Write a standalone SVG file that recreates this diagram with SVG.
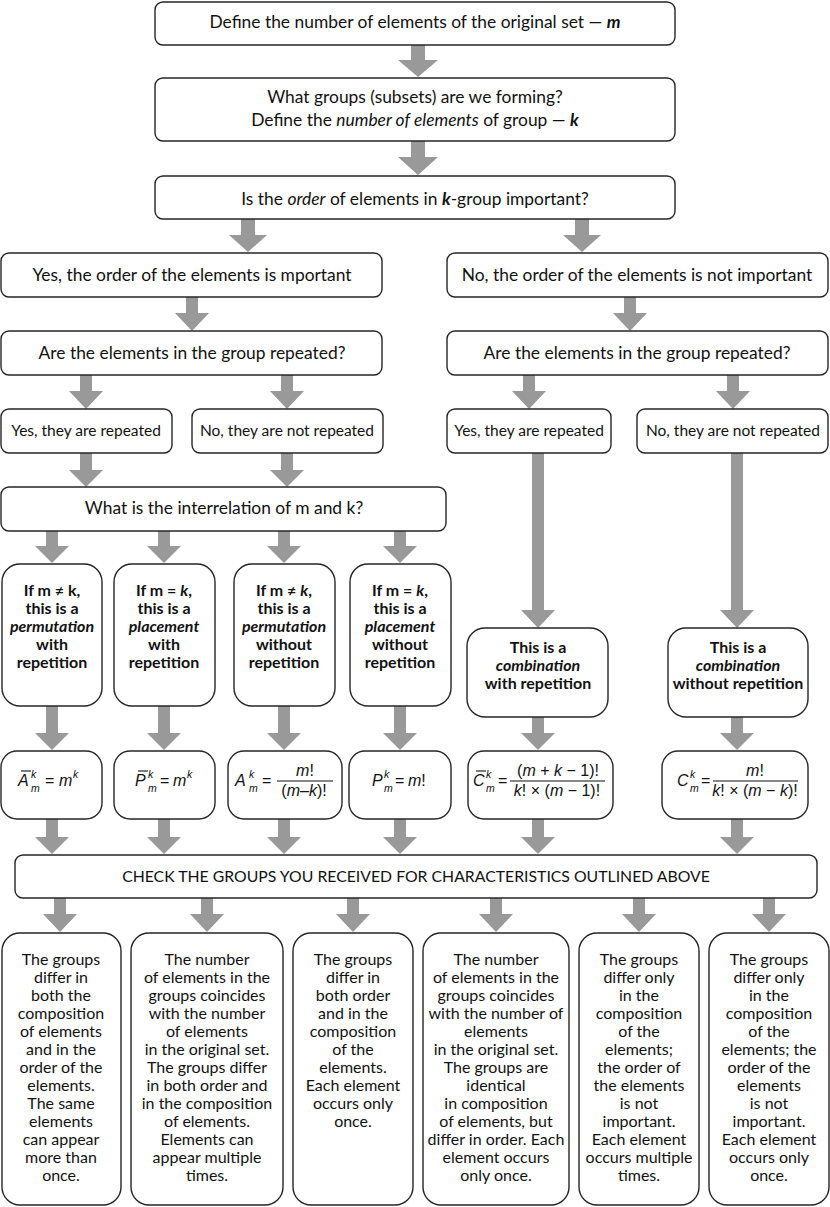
<svg xmlns="http://www.w3.org/2000/svg" width="830" height="1207" viewBox="0 0 830 1207">
<style>
.box{fill:#fff;stroke:#262626;stroke-width:1.4}
.arr{fill:#999;stroke:none}
text{font-family:Lato,"Liberation Sans",sans-serif;fill:#111}
.t{font-size:17.4px;text-anchor:middle}
.c{font-size:15.8px;text-anchor:middle}
.s{font-size:15.5px;text-anchor:middle}
.b{font-size:16px;font-weight:bold;text-anchor:middle}
.d{font-size:16px;text-anchor:middle}
.i{font-style:italic}
.bi{font-style:italic;font-weight:bold}
.f{font-family:"Liberation Sans",Arial,sans-serif;font-size:16px;font-style:normal}
.fi{font-family:"Liberation Sans",Arial,sans-serif;font-size:16px;font-style:italic}
.fs{font-family:"Liberation Sans",Arial,sans-serif;font-size:10.5px;font-style:italic}
.bar{stroke:#111;stroke-width:1.1}
</style>
<g id="connectors">
<polygon class="arr" points="411,45 425,45 425,60 438,60 418,77 398,60 411,60"/>
<polygon class="arr" points="411,141 425,141 425,157 438,157 418,175 398,157 411,157"/>
<polygon class="arr" points="241,219 255,219 255,235 267,235 248,252 229,235 241,235"/>
<polygon class="arr" points="575,219 589,219 589,235 601,235 582,252 563,235 575,235"/>
<polygon class="arr" points="186,297 198,297 198,313 209,313 192,331 175,313 186,313"/>
<polygon class="arr" points="624,297 636,297 636,313 647,313 630,331 613,313 624,313"/>
<polygon class="arr" points="80,375 92,375 92,391 103,391 86,409 69,391 80,391"/>
<polygon class="arr" points="281,375 293,375 293,391 304,391 287,409 270,391 281,391"/>
<polygon class="arr" points="523,375 535,375 535,391 546,391 529,409 512,391 523,391"/>
<polygon class="arr" points="727,375 739,375 739,391 750,391 733,409 716,391 727,391"/>
<polygon class="arr" points="80,453 92,453 92,470 103,470 86,487 69,470 80,470"/>
<polygon class="arr" points="281,453 293,453 293,470 304,470 287,487 270,470 281,470"/>
<polygon class="arr" points="532,453 544,453 544,610 555,610 538,628 521,610 532,610"/>
<polygon class="arr" points="731,453 743,453 743,610 754,610 737,628 720,610 731,610"/>
<polygon class="arr" points="46,531 58,531 58,546 69,546 52,563 35,546 46,546"/>
<polygon class="arr" points="158,531 170,531 170,546 181,546 164,563 147,546 158,546"/>
<polygon class="arr" points="278,531 290,531 290,546 301,546 284,563 267,546 278,546"/>
<polygon class="arr" points="394,531 406,531 406,546 417,546 400,563 383,546 394,546"/>
<polygon class="arr" points="46,706 58,706 58,733 69,733 52,750 35,733 46,733"/>
<polygon class="arr" points="158,706 170,706 170,733 181,733 164,750 147,733 158,733"/>
<polygon class="arr" points="278,706 290,706 290,733 301,733 284,750 267,733 278,733"/>
<polygon class="arr" points="394,706 406,706 406,733 417,733 400,750 383,733 394,733"/>
<polygon class="arr" points="532,717 544,717 544,733 555,733 538,750 521,733 532,733"/>
<polygon class="arr" points="731,717 743,717 743,733 754,733 737,750 720,733 731,733"/>
<polygon class="arr" points="46,819 58,819 58,837 69,837 52,854 35,837 46,837"/>
<polygon class="arr" points="158,819 170,819 170,837 181,837 164,854 147,837 158,837"/>
<polygon class="arr" points="278,819 290,819 290,837 301,837 284,854 267,837 278,837"/>
<polygon class="arr" points="394,819 406,819 406,837 417,837 400,854 383,837 394,837"/>
<polygon class="arr" points="532,819 544,819 544,837 555,837 538,854 521,837 532,837"/>
<polygon class="arr" points="731,819 743,819 743,837 754,837 737,854 720,837 731,837"/>
<polygon class="arr" points="54,898 66,898 66,914 77,914 60,932 43,914 54,914"/>
<polygon class="arr" points="201,898 213,898 213,914 224,914 207,932 190,914 201,914"/>
<polygon class="arr" points="347,898 359,898 359,914 370,914 353,932 336,914 347,914"/>
<polygon class="arr" points="490,898 502,898 502,914 513,914 496,932 479,914 490,914"/>
<polygon class="arr" points="633,898 645,898 645,914 656,914 639,932 622,914 633,914"/>
<polygon class="arr" points="763,898 775,898 775,914 786,914 769,932 752,914 763,914"/>
</g>

<g id="n-define-m"><rect class="box" x="155" y="2" width="520" height="43" rx="8"/>
<text class="t" x="415" y="28">Define the number of elements of the original set — <tspan class="bi">m</tspan></text></g>

<g id="n-groups"><rect class="box" x="155" y="78" width="520" height="63" rx="8"/>
<text class="t" x="415" y="103">What groups (subsets) are we forming?</text>
<text class="t" x="415" y="126">Define the <tspan class="i">number of elements</tspan> of group — <tspan class="bi">k</tspan></text></g>

<g id="n-order"><rect class="box" x="155" y="176" width="520" height="43" rx="8"/>
<text class="t" x="415" y="205">Is the <tspan class="i">order</tspan> of elements in <tspan class="bi">k</tspan>-group important?</text></g>

<g id="n-yes-order"><rect class="box" x="1" y="253" width="381" height="44" rx="8"/>
<text class="t" x="192" y="281">Yes, the order of the elements is mportant</text></g>

<g id="n-no-order"><rect class="box" x="447" y="253" width="381" height="44" rx="8"/>
<text class="t" x="637" y="281">No, the order of the elements is not important</text></g>

<g id="n-rep-left"><rect class="box" x="1" y="331" width="381" height="44" rx="8"/>
<text class="t" x="192" y="359">Are the elements in the group repeated?</text></g>

<g id="n-rep-right"><rect class="box" x="447" y="331" width="381" height="44" rx="8"/>
<text class="t" x="637" y="359">Are the elements in the group repeated?</text></g>

<g id="n-yes-rep-l"><rect class="box" x="1" y="409" width="171" height="44" rx="8"/>
<text class="s" x="86" y="436">Yes, they are repeated</text></g>
<g id="n-no-rep-l"><rect class="box" x="192" y="409" width="191" height="44" rx="8"/>
<text class="s" x="287" y="436">No, they are not repeated</text></g>
<g id="n-yes-rep-r"><rect class="box" x="447" y="409" width="164" height="44" rx="8"/>
<text class="s" x="529" y="436">Yes, they are repeated</text></g>
<g id="n-no-rep-r"><rect class="box" x="637" y="409" width="191" height="44" rx="8"/>
<text class="s" x="733" y="436">No, they are not repeated</text></g>

<g id="n-interrelation"><rect class="box" x="1" y="487" width="445" height="44" rx="8"/>
<text class="t" x="224" y="514">What is the interrelation of m and k?</text></g>

<g id="n-case1"><rect class="box" x="2" y="564" width="100" height="142" rx="18"/>
<text class="b" x="52" y="596">If m ≠ k,</text>
<text class="b" x="52" y="614">this is a</text>
<text class="b i" x="52" y="632">permutation</text>
<text class="b" x="52" y="650">with</text>
<text class="b" x="52" y="668">repetition</text></g>

<g id="n-case2"><rect class="box" x="114" y="564" width="101" height="142" rx="18"/>
<text class="b" x="164" y="596">If m = <tspan class="i">k</tspan>,</text>
<text class="b" x="164" y="614">this is a</text>
<text class="b i" x="164" y="632">placement</text>
<text class="b" x="164" y="650">with</text>
<text class="b" x="164" y="668">repetition</text></g>

<g id="n-case3"><rect class="box" x="234" y="564" width="101" height="142" rx="18"/>
<text class="b" x="284" y="596">If m ≠ <tspan class="i">k</tspan>,</text>
<text class="b" x="284" y="614">this is a</text>
<text class="b i" x="284" y="632">permutation</text>
<text class="b" x="284" y="650">without</text>
<text class="b" x="284" y="668">repetition</text></g>

<g id="n-case4"><rect class="box" x="350" y="564" width="101" height="142" rx="18"/>
<text class="b" x="400" y="596">If m = <tspan class="i">k</tspan>,</text>
<text class="b" x="400" y="614">this is a</text>
<text class="b i" x="400" y="632">placement</text>
<text class="b" x="400" y="650">without</text>
<text class="b" x="400" y="668">repetition</text></g>

<g id="n-comb-rep"><rect class="box" x="467" y="628" width="141" height="89" rx="18"/>
<text class="b" x="538" y="653">This is a</text>
<text class="b i" x="538" y="671">combination</text>
<text class="b" x="538" y="689">with repetition</text></g>

<g id="n-comb-norep"><rect class="box" x="668" y="628" width="140" height="89" rx="18"/>
<text class="b" x="738" y="653">This is a</text>
<text class="b i" x="738" y="671">combination</text>
<text class="b" x="738" y="689">without repetition</text></g>

<g id="n-f1"><rect class="box" x="1" y="751" width="101" height="68" rx="16"/>
<text class="fi" x="18" y="786">A</text><line class="bar" x1="21" y1="771" x2="31" y2="771"/>
<text class="fs" x="31" y="778">k</text><text class="fs" x="31" y="792">m</text>
<text class="f" x="45" y="786">=</text><text class="fi" x="59" y="786">m</text><text class="fs" x="73" y="778">k</text></g>

<g id="n-f2"><rect class="box" x="114" y="751" width="101" height="68" rx="16"/>
<text class="fi" x="135" y="786">P</text><line class="bar" x1="138" y1="771" x2="148" y2="771"/>
<text class="fs" x="148" y="778">k</text><text class="fs" x="148" y="792">m</text>
<text class="f" x="160" y="786">=</text><text class="fi" x="173" y="786">m</text><text class="fs" x="187" y="778">k</text></g>

<g id="n-f3"><rect class="box" x="228" y="751" width="114" height="68" rx="16"/>
<text class="fi" x="235" y="786">A</text>
<text class="fs" x="249" y="778">k</text><text class="fs" x="249" y="792">m</text>
<text class="f" x="262" y="786">=</text>
<text class="fi" x="305" y="776" text-anchor="middle">m<tspan class="f">!</tspan></text>
<line class="bar" x1="277" y1="781" x2="333" y2="781"/>
<text class="fi" x="304" y="796" text-anchor="middle"><tspan class="f">(</tspan>m–k<tspan class="f">)!</tspan></text></g>

<g id="n-f4"><rect class="box" x="349" y="751" width="102" height="68" rx="16"/>
<text class="fi" x="372" y="786">P</text>
<text class="fs" x="384" y="778">k</text><text class="fs" x="384" y="792">m</text>
<text class="f" x="395" y="786">=</text><text class="fi" x="408" y="786">m<tspan class="f">!</tspan></text></g>

<g id="n-f5"><rect class="box" x="468" y="751" width="145" height="68" rx="16"/>
<text class="fi" x="473" y="786">C</text><line class="bar" x1="476" y1="771" x2="486" y2="771"/>
<text class="fs" x="486" y="778">k</text><text class="fs" x="486" y="792">m</text>
<text class="f" x="498" y="786">=</text>
<text class="fi" x="558" y="776" text-anchor="middle"><tspan class="f">(</tspan>m <tspan class="f">+</tspan> k <tspan class="f">− 1)!</tspan></text>
<line class="bar" x1="510" y1="781" x2="605" y2="781"/>
<text class="fi" x="557" y="796" text-anchor="middle">k<tspan class="f">! × (</tspan>m <tspan class="f">− 1)!</tspan></text></g>

<g id="n-f6"><rect class="box" x="662" y="751" width="146" height="68" rx="16"/>
<text class="fi" x="677" y="786">C</text>
<text class="fs" x="690" y="778">k</text><text class="fs" x="690" y="792">m</text>
<text class="f" x="701" y="786">=</text>
<text class="fi" x="755" y="776" text-anchor="middle">m<tspan class="f">!</tspan></text>
<line class="bar" x1="713" y1="781" x2="798" y2="781"/>
<text class="fi" x="755" y="796" text-anchor="middle">k<tspan class="f">! × (</tspan>m <tspan class="f">−</tspan> k<tspan class="f">)!</tspan></text></g>

<g id="n-check"><rect class="box" x="15" y="855" width="802" height="43" rx="8"/>
<text class="c" x="416" y="882">CHECK THE GROUPS YOU RECEIVED FOR CHARACTERISTICS OUTLINED ABOVE</text></g>

<g id="n-r1"><rect class="box" x="2" y="933" width="119" height="272" rx="18"/>
<text class="d" x="61">
<tspan x="61" y="965">The groups</tspan><tspan x="61" y="983">differ in</tspan><tspan x="61" y="1001">both the</tspan><tspan x="61" y="1019">composition</tspan><tspan x="61" y="1037">of elements</tspan><tspan x="61" y="1055">and in the</tspan><tspan x="61" y="1073">order of the</tspan><tspan x="61" y="1091">elements.</tspan><tspan x="61" y="1109">The same</tspan><tspan x="61" y="1127">elements</tspan><tspan x="61" y="1145">can appear</tspan><tspan x="61" y="1163">more than</tspan><tspan x="61" y="1181">once.</tspan></text></g>

<g id="n-r2"><rect class="box" x="131" y="933" width="152" height="272" rx="18"/>
<text class="d" x="207">
<tspan x="207" y="965">The number</tspan><tspan x="207" y="983">of elements in the</tspan><tspan x="207" y="1001">groups coincides</tspan><tspan x="207" y="1019">with the number</tspan><tspan x="207" y="1037">of elements</tspan><tspan x="207" y="1055">in the original set.</tspan><tspan x="207" y="1073">The groups differ</tspan><tspan x="207" y="1091">in both order and</tspan><tspan x="207" y="1109">in the composition</tspan><tspan x="207" y="1127">of elements.</tspan><tspan x="207" y="1145">Elements can</tspan><tspan x="207" y="1163">appear multiple</tspan><tspan x="207" y="1181">times.</tspan></text></g>

<g id="n-r3"><rect class="box" x="293" y="933" width="120" height="272" rx="18"/>
<text class="d" x="353">
<tspan x="353" y="965">The groups</tspan><tspan x="353" y="983">differ in</tspan><tspan x="353" y="1001">both order</tspan><tspan x="353" y="1019">and in the</tspan><tspan x="353" y="1037">composition</tspan><tspan x="353" y="1055">of the</tspan><tspan x="353" y="1073">elements.</tspan><tspan x="353" y="1091">Each element</tspan><tspan x="353" y="1109">occurs only</tspan><tspan x="353" y="1127">once.</tspan></text></g>

<g id="n-r4"><rect class="box" x="423" y="933" width="146" height="272" rx="18"/>
<text class="d" x="496">
<tspan x="496" y="965">The number</tspan><tspan x="496" y="983">of elements in the</tspan><tspan x="496" y="1001">groups coincides</tspan><tspan x="496" y="1019">with the number of</tspan><tspan x="496" y="1037">elements</tspan><tspan x="496" y="1055">in the original set.</tspan><tspan x="496" y="1073">The groups are</tspan><tspan x="496" y="1091">identical</tspan><tspan x="496" y="1109">in composition</tspan><tspan x="496" y="1127">of elements, but</tspan><tspan x="496" y="1145">differ in order. Each</tspan><tspan x="496" y="1163">element occurs</tspan><tspan x="496" y="1181">only once.</tspan></text></g>

<g id="n-r5"><rect class="box" x="579" y="933" width="120" height="272" rx="18"/>
<text class="d" x="639">
<tspan x="639" y="965">The groups</tspan><tspan x="639" y="983">differ only</tspan><tspan x="639" y="1001">in the</tspan><tspan x="639" y="1019">composition</tspan><tspan x="639" y="1037">of the</tspan><tspan x="639" y="1055">elements;</tspan><tspan x="639" y="1073">the order of</tspan><tspan x="639" y="1091">the elements</tspan><tspan x="639" y="1109">is not</tspan><tspan x="639" y="1127">important.</tspan><tspan x="639" y="1145">Each element</tspan><tspan x="639" y="1163">occurs multiple</tspan><tspan x="639" y="1181">times.</tspan></text></g>

<g id="n-r6"><rect class="box" x="709" y="933" width="120" height="272" rx="18"/>
<text class="d" x="769">
<tspan x="769" y="965">The groups</tspan><tspan x="769" y="983">differ only</tspan><tspan x="769" y="1001">in the</tspan><tspan x="769" y="1019">composition</tspan><tspan x="769" y="1037">of the</tspan><tspan x="769" y="1055">elements; the</tspan><tspan x="769" y="1073">order of the</tspan><tspan x="769" y="1091">elements</tspan><tspan x="769" y="1109">is not</tspan><tspan x="769" y="1127">important.</tspan><tspan x="769" y="1145">Each element</tspan><tspan x="769" y="1163">occurs only</tspan><tspan x="769" y="1181">once.</tspan></text></g>
</svg>
